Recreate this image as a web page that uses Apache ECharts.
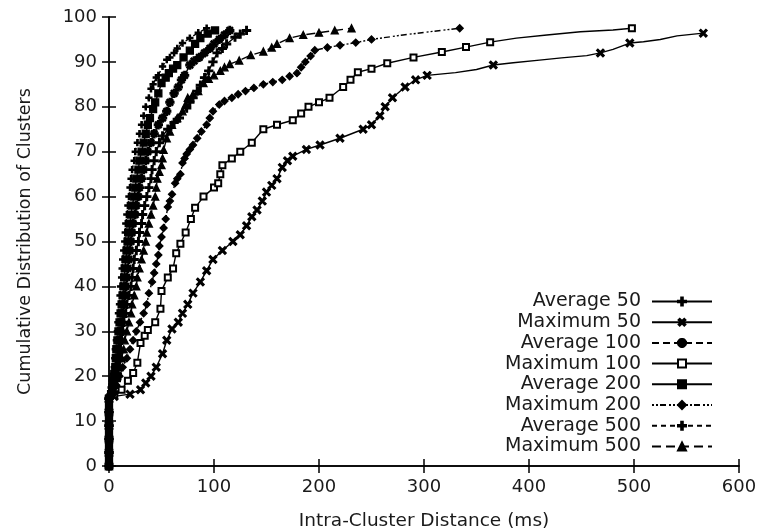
<!DOCTYPE html>
<html><head><meta charset="utf-8">
<script src="https://cdn.jsdelivr.net/npm/echarts@6/dist/echarts.min.js"></script>
<style>html,body{margin:0;padding:0;background:#fff}#c{width:758px;height:532px}</style>
</head><body><div id="c"></div>
<script>
// ---- data (x = distance ms, y = cumulative %); a third element 0 = no marker at that point
const xTickValues = [0, 100, 200, 300, 400, 500, 600];
const yTickValues = [0, 10, 20, 30, 40, 50, 60, 70, 80, 90, 100];
const seriesNames = ['Average 50', 'Maximum 50', 'Average 100', 'Maximum 100',
                     'Average 200', 'Maximum 200', 'Average 500', 'Maximum 500'];

const average50 = [[0,0],[0,3],[0,6],[0,9],[0,12],[0,15],[4,16],[5,17.5],[7,19],[8,20.5],[9,22],[10,24],[11,26],[12,28],[13,30],[14,32],[16,34],[17,36],[19,38],[21,40],[22,42],[23,44],[24,46],[26,48],[28,50],[29,52],[31,54],[32,56],[34,58],[36,60],[38,62],[40,64],[41,66],[43,68],[45,70],[48,72],[51,73.5],[56,75],[62,76.5],[67,77.5],[74,79.7],[77,81],[80,82],[84,83.5],[87,84.8],[91,86.5],[95,88],[99,90],[103,92],[108,93],[112,94],[120,95.5],[125,96.2],[131,97]];
const maximum50 = [[0,0],[0,3],[0,6],[0,9],[0,12],[0,15],[5,15.5],[20,16],[30,17],[35,18.5],[40,20],[45,22],[51,25],[55,28],[60,30.5],[66,32],[70,34],[75,36],[80,38.5],[87,41],[93,43.5],[99,46],[108,48],[118,50],[125,51.5],[131,53.5],[136,55.5],[141,57],[146,59],[150,61],[155,62.5],[160,64],[165,66.5],[170,68],[175,69],[188,70.5],[201,71.5],[220,73],[242,75],[250,76],[258,78],[263,80],[270,82],[282,84.4],[292,86],[303,87],[330,87.6,0],[350,88.3,0],[366,89.3],[385,89.8,0],[410,90.4,0],[431,90.9,0],[455,91.4,0],[468,92],[480,92.8,0],[496,94.2],[509,94.5,0],[525,95,0],[541,95.8,0],[566,96.4]];
const average100 = [[0,0],[0,3],[0,6],[0,9],[0,12],[0,15],[3,16],[4,17.5],[5,19],[6,20.5],[7,22],[8,24],[9,26],[10,28],[11,30],[12,32],[13,34],[14,36],[15,38],[16,40],[17,42],[18,44],[19,46],[20,48],[21,50],[22,52],[23,54],[25,56],[26,58],[28,60],[29,62],[31,64],[33,66],[35,68],[37,70],[40,72],[43,74],[47,76],[51,77.5],[55,79],[58,81],[62,83],[66,84.4],[69,86],[72,87],[77,89.3],[81,90.2],[86,91],[91,92],[96,93],[100,94],[105,95],[110,96],[115,97]];
const maximum100 = [[0,0],[0,3],[0,6],[0,9],[0,12],[0,15],[5,16],[12,17],[18,19],[23,20.7],[27,23],[30,27.4],[34,29],[37,30.3],[44,32],[49,35],[50,39],[56,42],[61,44],[64,47.4],[68,49.5],[73,52],[78,55],[82,57.5],[90,60],[100,62],[104,63],[106,65],[108,67],[117,68.5],[125,70],[136,72],[147,75],[160,76],[175,77],[183,78.5],[190,80],[200,81],[210,82],[223,84.4],[230,86],[237,87.7],[250,88.5],[265,89.7],[290,91],[317,92.2],[340,93.3],[363,94.4],[388,95.3,0],[417,96,0],[449,96.7,0],[480,97.1,0],[498,97.5]];
const average200 = [[0,0],[0,1.5],[0,3],[0,4.5],[0,6],[0,7.5],[0,9],[0,10.5],[0,12],[0,13.5],[0,15],[2,16],[3,17.5],[4,19],[5,20.5],[6,22],[6.5,24],[7,26],[8,28],[9,30],[10,32],[11,34],[12,36],[13,38],[14,40],[14.5,42],[15,44],[16,46],[17,48],[18,50],[19,52],[20,54],[21,56],[22,58],[24,60],[25,62],[26,64],[28,66],[29,68],[31,70],[33,72],[35,74],[37,76],[39,77.5],[42,79.5],[44,81],[47,83],[50,85.3],[54,86.5],[57,87.5],[61,88.5],[65,89.3],[71,91],[77,92.5],[82,94],[87,95.3],[94,96.3],[101,97]];
const maximum200 = [[0,0],[0,3],[0,6],[0,9],[0,12],[0,15],[4,16],[7,18],[10,20],[13,22],[17,24],[20,26],[23,28],[26,30],[29.5,32],[33,34],[36,36],[38,38.5],[41,41],[43,43],[45,45],[47,47],[48,49],[50,51],[52,53],[54,55],[56,57.7],[58,59],[60,60.5],[63,63],[65,64],[68,65],[70,67.5],[72,68.5],[74,69.5],[77,70.5],[80,71.5],[84,73],[88,74.5],[93,76],[96,77.5],[99,79],[105,80.5],[110,81.3],[117,82],[123,82.8],[130,83.5],[138,84.2],[147,85],[156,85.5],[165,86],[172,86.8],[179,87.5],[183,88.8],[187,90],[192,91.3],[196,92.6],[208,93.2],[220,93.7],[235,94.3],[250,95],[280,96,0],[305,96.7,0],[334,97.5]];
const average500 = [[0,0],[0,3],[0,6],[0,9],[0,12],[0,15],[1,16],[2,17.5],[3,19],[4,20.5],[5,22],[5.5,24],[6,26],[7,28],[8,30],[8.5,32],[9,34],[10,36],[10.5,38],[11,40],[12,42],[12.5,44],[13,46],[14,48],[15,50],[15.5,52],[16,54],[17,56],[18,58],[19,60],[20,62],[21,64],[22,66],[24,68],[25,70],[27,72],[29,74],[31,76],[33,78],[35,80],[38,82],[40,84],[42,85],[45,86.5],[47,87],[51,89],[55,90.5],[58,91],[62,92],[65,93],[70,94.2],[77,95.3],[85,96.5],[93,97.5]];
const maximum500 = [[0,0],[0,3],[0,6],[0,9],[0,12],[0,15],[2,16],[4,17],[6,18.5],[8,20],[10,22],[12,24],[14,26],[15,28],[17,30],[19,32],[21,34],[22,36],[24,38],[26,40],[27,42],[29,44],[31,46],[33,48],[35,50],[36,52],[38,54],[40,56],[42,58],[44,60],[45,62],[46,64],[48,65.5],[50,67],[51,68.5],[52,70.4],[55,73],[58,74.5],[60,76],[65,77.5],[70,79],[73,80.5],[75,82],[80,82.8],[85,83.5],[90,85.3],[95,86.2],[100,87],[106,88],[110,88.8],[115,89.5],[124,90.3],[135,91.5],[147,92.3],[155,93.2],[160,94],[172,95.3],[185,96],[200,96.5],[215,97],[231,97.5]];

const seriesData = [average50, maximum50, average100, maximum100, average200, maximum200, average500, maximum500];

// ---- styles
const PLUS = 'path://M4,0H6V4H10V6H6V10H4V6H0V4H4Z';
const STAR = 'path://M4,0H6V3L8,1L9,2L7,4H10V6H7L9,8L8,9L6,7V10H4V7L2,9L1,8L3,6H0V4H3L1,2L2,1L4,3Z';
const styles = [
  {symbol: PLUS, size: 8, rotate: 0, type: 'solid'},
  {symbol: PLUS, size: 9, rotate: 45, type: 'solid'},
  {symbol: STAR, size: 8, rotate: 0, type: [7, 4]},
  {symbol: 'emptyRect', size: 6, rotate: 0, type: 'solid'},
  {symbol: 'rect', size: 7, rotate: 0, type: 'solid'},
  {symbol: 'diamond', size: 7, rotate: 0, type: [2, 2, 2, 2, 6, 3]},
  {symbol: PLUS, size: 6, rotate: 0, type: [5, 4]},
  {symbol: 'triangle', size: 7, rotate: 0, type: [9, 5]}
];

const FONT = 'DejaVu Sans';
const TXT = '#1a1a1a';

const series = seriesNames.map((name, i) => ({
  name: name,
  type: 'line',
  xAxisIndex: 0, yAxisIndex: 0,
  symbol: styles[i].symbol,
  symbolSize: styles[i].size,
  symbolRotate: styles[i].rotate,
  showAllSymbol: true,
  animation: false,
  clip: false,
  z: 3,
  lineStyle: {color: '#000', width: 1.4, type: styles[i].type},
  itemStyle: {color: '#000', borderColor: '#000', borderWidth: 1.3},
  data: seriesData[i].map(p => p.length > 2 && p[2] === 0
      ? {value: [p[0], p[1]], symbol: 'none'}
      : {value: [p[0], p[1]]})
}));

const axisLineStyle = {show: true, lineStyle: {color: '#000', width: 1.5}};
const tick = {show: true, inside: true, length: 7, lineStyle: {color: '#000', width: 1.5}};

const chart = echarts.init(document.getElementById('c'), null, {renderer: 'canvas'});
chart.setOption({
  backgroundColor: '#fff',
  animation: false,
  grid: {left: 109, right: 19, top: 17, bottom: 66, containLabel: false, outerBoundsMode: 'none'},
  legend: {
    data: seriesNames,
    orient: 'vertical',
    right: 40, top: 287,
    align: 'right',
    itemWidth: 60, itemHeight: 10, itemGap: 1.7,
    textStyle: {fontFamily: FONT, fontSize: 19, color: TXT, lineHeight: 19, padding: [0, 6, 0, 0]},
    selectedMode: false
  },
  xAxis: [{
    type: 'value', position: 'bottom', min: xTickValues[0], max: xTickValues[xTickValues.length - 1],
    interval: xTickValues[1] - xTickValues[0],
    axisLine: axisLineStyle, axisTick: tick, splitLine: {show: false},
    axisLabel: {fontFamily: FONT, fontSize: 18, color: TXT, margin: 12},
    name: 'Intra-Cluster Distance (ms)', nameLocation: 'middle', nameGap: 46,
    nameTextStyle: {fontFamily: FONT, fontSize: 18.5, color: TXT}
  }, {
    type: 'value', position: 'top', min: xTickValues[0], max: xTickValues[xTickValues.length - 1],
    interval: xTickValues[1] - xTickValues[0],
    axisLine: axisLineStyle, axisTick: tick, splitLine: {show: false}, axisLabel: {show: false}
  }],
  yAxis: [{
    type: 'value', position: 'left', min: yTickValues[0], max: yTickValues[yTickValues.length - 1],
    interval: yTickValues[1] - yTickValues[0],
    axisLine: axisLineStyle, axisTick: tick, splitLine: {show: false},
    axisLabel: {fontFamily: FONT, fontSize: 18, color: TXT, margin: 12},
    name: 'Cumulative Distribution of Clusters', nameLocation: 'middle', nameGap: 75, nameRotate: 90,
    nameTextStyle: {fontFamily: FONT, fontSize: 17.5, color: TXT}
  }, {
    type: 'value', position: 'right', min: yTickValues[0], max: yTickValues[yTickValues.length - 1],
    interval: yTickValues[1] - yTickValues[0],
    axisLine: axisLineStyle, axisTick: tick, splitLine: {show: false}, axisLabel: {show: false}
  }],
  series: series
});
</script>
</body></html>
